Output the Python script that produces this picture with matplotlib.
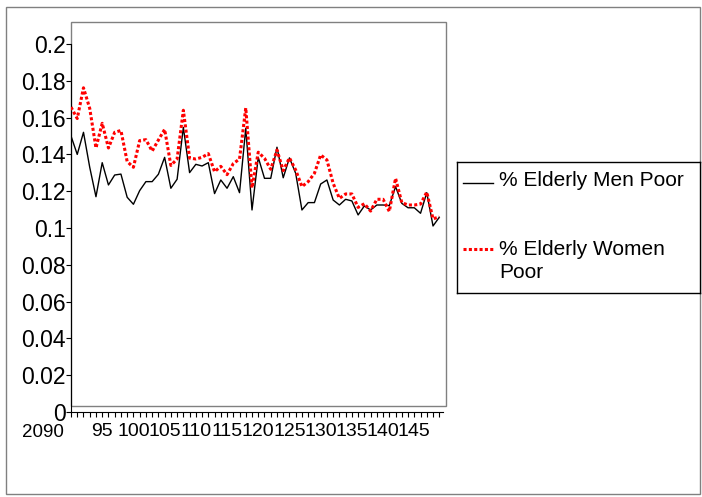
import matplotlib
matplotlib.use("Agg")
import matplotlib.pyplot as plt
from matplotlib.patches import Rectangle

plt.rcParams["font.family"] = ["Liberation Sans", "DejaVu Sans"]

# data
years = list(range(2090, 2150))

men_poor = [
    0.150, 0.140, 0.152, 0.133, 0.117, 0.1355, 0.1234, 0.1288, 0.1293, 0.1167,
    0.1129, 0.1203, 0.1252, 0.1252, 0.1292, 0.1384, 0.1216, 0.1265, 0.1547, 0.1301,
    0.1346, 0.1337, 0.1355, 0.1187, 0.1261, 0.1216, 0.1279, 0.1192, 0.1542, 0.1098,
    0.1384, 0.1270, 0.1270, 0.1439, 0.1273, 0.1381, 0.1297, 0.1098, 0.1138, 0.1138,
    0.1239, 0.1261, 0.1152, 0.1125, 0.1156, 0.1147, 0.1071, 0.1120, 0.1098, 0.1125,
    0.1125, 0.1122, 0.1225, 0.1134, 0.1110, 0.1110, 0.1080, 0.1192, 0.1011, 0.1058,
]

women_poor = [
    0.1657, 0.1595, 0.1762, 0.1650, 0.1435, 0.1569, 0.1435, 0.1520, 0.1530, 0.1361,
    0.1330, 0.1475, 0.1480, 0.1418, 0.1478, 0.1536, 0.1340, 0.1375, 0.1640, 0.1380,
    0.1375, 0.1384, 0.1404, 0.1306, 0.1335, 0.1290, 0.1350, 0.1375, 0.1653, 0.1218,
    0.1412, 0.1379, 0.1319, 0.1424, 0.1312, 0.1381, 0.1315, 0.1225, 0.1252, 0.1297,
    0.1397, 0.1370, 0.1243, 0.1161, 0.1185, 0.1185, 0.1112, 0.1132, 0.1092, 0.1156,
    0.1156, 0.1090, 0.1270, 0.1138, 0.1125, 0.1125, 0.1130, 0.1195, 0.1050, 0.1060,
]

y_ticks = [0, 0.02, 0.04, 0.06, 0.08, 0.1, 0.12, 0.14, 0.16, 0.18, 0.2]
y_tick_labels = ["0", "0.02", "0.04", "0.06", "0.08", "0.1",
                 "0.12", "0.14", "0.16", "0.18", "0.2"]
x_label_years = [2095, 2100, 2105, 2110, 2115, 2120, 2125, 2130, 2135, 2140, 2145]
x_label_text = ["95", "100", "105", "110", "115", "120",
                "125", "130", "135", "140", "145"]

W, H = 702, 497


def px_box(x0, y0, x1, y1):
    # pixel box (top-left origin) -> figure fraction rect
    return [x0 / W, 1 - y1 / H, (x1 - x0) / W, (y1 - y0) / H]


fig = plt.figure(figsize=(W / 100, H / 100), dpi=100)
fig.patch.set_facecolor("white")

# outer chart frame and plot-area frame
fig.add_artist(Rectangle((6 / W, 1 - 494 / H), 694 / W, 487.5 / H,
                         transform=fig.transFigure, fill=False,
                         ec="#808080", lw=1, zorder=-2))
fig.add_artist(Rectangle((71 / W, 1 - 406 / H), 375 / W, 384 / H,
                         transform=fig.transFigure, fill=False,
                         ec="#808080", lw=1, zorder=-1))

ax = fig.add_axes(px_box(71, 44, 443, 412))
ax.patch.set_visible(False)

ax.plot(years, men_poor, color="black", lw=1.0, zorder=3)
ax.plot(years, women_poor, color="#ff0000", lw=2.2,
        linestyle=(0, (1, 0.75)), zorder=4)

ax.set_xlim(2090, 2149.6)
ax.set_ylim(0, 0.2)

ax.spines["top"].set_visible(False)
ax.spines["right"].set_visible(False)
for side in ["left", "bottom"]:
    ax.spines[side].set_linewidth(0.8)
    ax.spines[side].set_color("black")

ax.set_yticks(y_ticks)
ax.set_yticklabels(y_tick_labels)
ax.tick_params(axis="y", length=3.6, width=0.8, pad=0.3, labelsize=16.5)

ax.set_xticks(years)
labels = []
for yr in years:
    if yr in x_label_years:
        labels.append(x_label_text[x_label_years.index(yr)])
    else:
        labels.append("")
ax.set_xticklabels(labels)
ax.tick_params(axis="x", length=3.6, width=0.8, pad=4.5, labelsize=14)

ax.annotate("2090", xy=(2090, 0), xycoords=("data", "axes fraction"),
            xytext=(-28, -20.5), textcoords="offset pixels",
            ha="center", va="center", fontsize=13.5)

# legend box
lax = fig.add_axes(px_box(457, 162, 700, 293))
lax.set_xlim(0, 243)
lax.set_ylim(131, 0)
lax.set_xticks([])
lax.set_yticks([])
for s in lax.spines.values():
    s.set_linewidth(1)
    s.set_color("black")

lax.plot([6, 36], [21, 21], color="black", lw=1.0)
lax.plot([6, 36], [87, 87], color="#ff0000", lw=2.2, linestyle=(0, (1, 0.75)))
lax.text(42, 19, "% Elderly Men Poor", fontsize=15, va="center", ha="left")
lax.text(42, 99, "% Elderly Women\nPoor", fontsize=15, va="center",
         ha="left", linespacing=1.32)

fig.savefig("out.png", dpi=100)
